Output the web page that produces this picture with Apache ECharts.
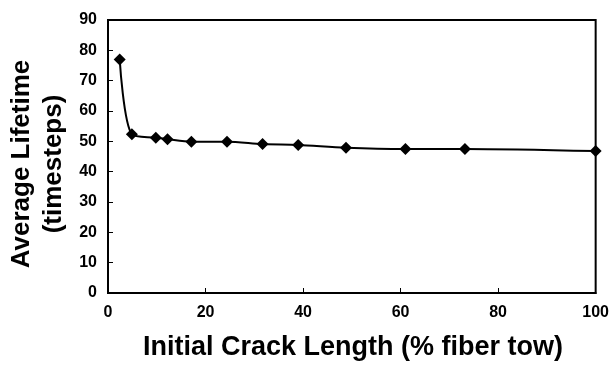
<!DOCTYPE html>
<html>
<head>
<meta charset="utf-8">
<script src="https://cdn.jsdelivr.net/npm/echarts@6/dist/echarts.min.js"></script>
<style>
  html, body { margin: 0; padding: 0; background: #fff; }
  #chart { width: 612px; height: 367px; }
</style>
</head>
<body>
<div id="chart"></div>
<script>
// crack length (% fiber tow) vs average lifetime (timesteps)
const crackLength = [2.4, 4.9, 9.8, 12.2, 17.1, 24.4, 31.7, 39.0, 48.8, 61.0, 73.2, 100];
const lifetime = [77.0, 52.3, 51.2, 50.7, 49.9, 49.9, 49.1, 48.8, 47.9, 47.5, 47.5, 46.8];

const chart = echarts.init(document.getElementById('chart'));
const font = 'Liberation Sans, Arial, sans-serif';

chart.setOption({
  animation: false,
  grid: {
    left: 108, right: 16, top: 20, bottom: 74,
    show: true, borderColor: '#000', borderWidth: 2
  },
  // axis titles
  graphic: [
    {
      type: 'text',
      x: 353, y: 348,
      style: {
        text: 'Initial Crack Length (% fiber tow)',
        font: 'bold 27px ' + font,
        fill: '#000',
        textAlign: 'center',
        textVerticalAlign: 'middle'
      }
    },
    {
      type: 'text',
      x: 38, y: 164,
      rotation: Math.PI / 2,
      style: {
        text: 'Average Lifetime\n(timesteps)',
        font: 'bold 26px ' + font,
        lineHeight: 32,
        fill: '#000',
        textAlign: 'center',
        textVerticalAlign: 'middle'
      }
    }
  ],
  xAxis: {
    type: 'value',
    min: 0, max: 100, interval: 20,
    axisLine: { lineStyle: { color: '#000', width: 2 } },
    axisTick: { inside: true, length: 5, lineStyle: { color: '#000', width: 1 } },
    axisLabel: { fontFamily: font, fontWeight: 'bold', fontSize: 16, color: '#000', margin: 12 },
    splitLine: { show: false }
  },
  yAxis: {
    type: 'value',
    min: 0, max: 90, interval: 10,
    axisLine: { lineStyle: { color: '#000', width: 2 } },
    axisTick: { inside: true, length: 5, lineStyle: { color: '#000', width: 1 } },
    axisLabel: { fontFamily: font, fontWeight: 'bold', fontSize: 16, color: '#000', margin: 11 },
    splitLine: { show: false }
  },
  series: [{
    type: 'line',
    data: crackLength.map((x, i) => [x, lifetime[i]]),
    smooth: 0.3,
    symbol: 'diamond',
    symbolSize: 12,
    lineStyle: { color: '#000', width: 2 },
    itemStyle: { color: '#000' }
  }]
});
</script>
</body>
</html>
